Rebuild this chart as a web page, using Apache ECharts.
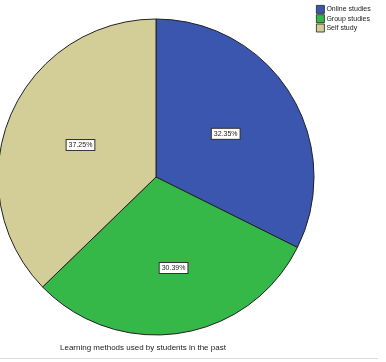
<!DOCTYPE html>
<html><head><meta charset="utf-8">
<script src="https://cdn.jsdelivr.net/npm/echarts@6/dist/echarts.min.js"></script>
<style>html,body{margin:0;padding:0;background:#fff}#c{width:386px;height:362px}</style>
</head><body><div id="c"></div>
<script>
const categories = ["Online studies", "Group studies", "Self study"];
const percents = [32.35, 30.39, 37.25];
const colors = ["#3B56AE", "#35B848", "#D3CE98"];
const titleText = "Learning methods used by students in the past";

const chart = echarts.init(document.getElementById('c'), null, {renderer: 'canvas'});
chart.setOption({
  animation: false,
  backgroundColor: '#fff',
  title: {
    text: titleText, left: 55, top: 339,
    textStyle: {fontFamily: 'Liberation Sans', fontSize: 8, fontWeight: 'normal', color: '#222'}
  },
  legend: {
    orient: 'vertical', left: 311, top: 0,
    itemWidth: 8, itemHeight: 8, itemGap: 0.5,
    icon: 'rect',
    textStyle: {fontFamily: 'Liberation Sans', fontSize: 7, color: '#222', padding: [0,0,0,-3]},
    itemStyle: {borderColor: '#222', borderWidth: 0.8},
    data: categories
  },
  graphic: [{
    type: 'line', shape: {x1: 0, y1: 358.5, x2: 378, y2: 358.5},
    style: {stroke: '#ddd', lineWidth: 1}
  }],
  series: [{
    type: 'pie',
    center: [156, 177], radius: [0, 158],
    startAngle: 90, clockwise: true,
    avoidLabelOverlap: false,
    itemStyle: {borderColor: '#222', borderWidth: 1},
    label: {
      show: true, position: 'inside',
      formatter: p => p.value.toFixed(2) + '%',
      fontFamily: 'Liberation Sans', fontSize: 7, color: '#222',
      backgroundColor: '#fff', borderColor: '#333', borderWidth: 1,
      padding: [2, 2, 1, 2]
    },
    labelLine: {show: false},
    emphasis: {disabled: true},
    data: categories.map((c, i) => ({
      name: c, value: percents[i], itemStyle: {color: colors[i]},
      label: i === 1 ? {offset: [5, 10]} : undefined
    }))
  }]
});
</script></body></html>
